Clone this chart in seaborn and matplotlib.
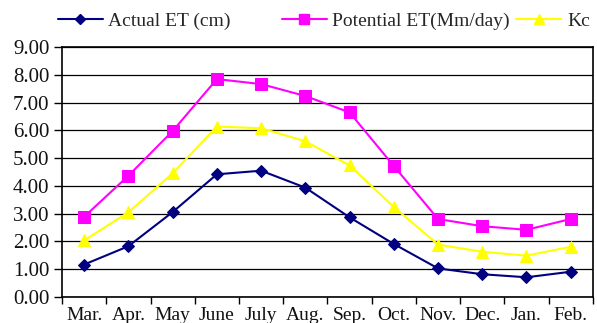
import matplotlib
matplotlib.use("Agg")
import matplotlib.pyplot as plt
import seaborn as sns
import pandas as pd
from matplotlib.lines import Line2D
from matplotlib.ticker import FixedLocator, NullFormatter

months = ["Mar.", "Apr.", "May", "June", "July", "Aug.", "Sep.", "Oct.", "Nov.", "Dec.", "Jan.", "Feb."]
actual_et = [1.17, 1.83, 3.06, 4.42, 4.55, 3.94, 2.87, 1.91, 1.03, 0.82, 0.71, 0.91]
potential_et = [2.89, 4.37, 5.98, 7.85, 7.67, 7.24, 6.65, 4.72, 2.81, 2.55, 2.42, 2.81]
kc = [2.04, 3.05, 4.46, 6.14, 6.08, 5.61, 4.74, 3.24, 1.89, 1.63, 1.49, 1.81]

series_names = ["Actual ET (cm)", "Potential ET(Mm/day)", "Kc"]
colors = ["#000080", "#FF00FF", "#FFFF00"]
markers = ["D", "s", "^"]
msizes = [6.5, 8, 8]

sns.set_style("white")
plt.rcParams['font.family'] = ['Liberation Serif', 'DejaVu Serif']

fig = plt.figure(figsize=(5.97, 3.23), dpi=100)
ax = fig.add_axes([0.104, 0.0805, 0.889, 0.7735])

df = pd.DataFrame({"month": months * 3,
                   "value": actual_et + potential_et + kc,
                   "series": [series_names[0]] * 12 + [series_names[1]] * 12 + [series_names[2]] * 12})

for name, c, m, ms in zip(series_names, colors, markers, msizes):
    sub = df[df["series"] == name]
    sns.lineplot(data=sub, x="month", y="value", ax=ax, color=c, marker=m,
                 markersize=ms, markeredgecolor=c, linewidth=1.5, sort=False, legend=False)

ax.set_xlim(-0.5, 11.5)
ax.set_ylim(0, 9)
ax.set_yticks(range(0, 10))
ax.set_yticklabels([f"{v:.2f}" for v in range(0, 10)])
ax.set_xticks(range(12))
ax.set_xticklabels(months)
ax.xaxis.set_minor_locator(FixedLocator([i - 0.5 for i in range(13)]))
ax.xaxis.set_minor_formatter(NullFormatter())
ax.tick_params(axis='x', which='major', length=0, pad=7, labelsize=14, colors='#111111')
ax.tick_params(axis='x', which='minor', length=5, width=1, color='black', direction='out', bottom=True)
ax.tick_params(axis='y', length=6, width=1, color='black', direction='out', left=True, labelsize=15, pad=3,
               labelcolor='#111111')
ax.set_xlabel("")
ax.set_ylabel("")
ax.yaxis.grid(True, color='black', linewidth=0.9)
ax.xaxis.grid(False)
for s in ax.spines.values():
    s.set_color('black')
    s.set_linewidth(1.2)

positions = [0.097, 0.472, 0.865]
for name, c, m, ms, xp in zip(series_names, colors, markers, msizes, positions):
    h = Line2D([], [], color=c, marker=m, markersize=ms * 0.85, markeredgecolor=c, linewidth=1.5)
    fig.legend(handles=[h], labels=[name], loc='center left', bbox_to_anchor=(xp, 0.935),
               frameon=False, fontsize=14, handlelength=2.3, handletextpad=0.3,
               borderpad=0, borderaxespad=0)

fig.savefig("out.png", dpi=100)
